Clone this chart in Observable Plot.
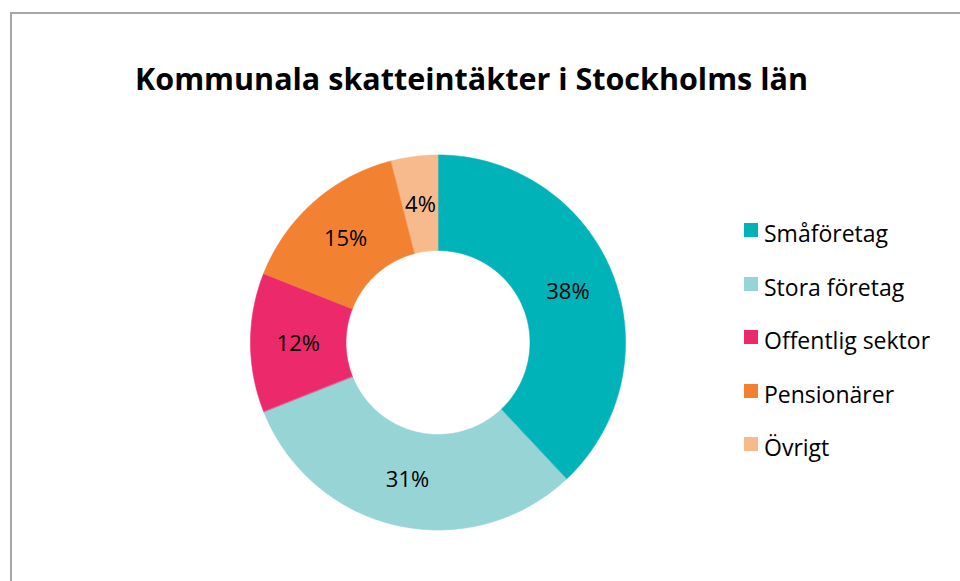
<!DOCTYPE html>
<html>
<head>
<meta charset="utf-8">
<script src="https://cdn.jsdelivr.net/npm/d3@7"></script>
<script src="https://cdn.jsdelivr.net/npm/@observablehq/plot@0.6"></script>
<style>
  html, body { margin: 0; padding: 0; background: #fff; overflow: hidden; width: 960px; height: 581px; }
  #wrap { position: relative; width: 960px; height: 581px; font-family: "Open Sans", sans-serif; }
  #frame { position: absolute; left: 10px; top: 12px; width: 2000px; height: 2000px;
           border-left: 2px solid #a6a6a6; border-top: 2px solid #a6a6a6; }
  #title { position: absolute; left: 0; top: 63px; width: 943px; text-align: center;
           font-size: 30.5px; font-weight: 700; line-height: 30.5px; color: #000; white-space: nowrap; }
  #chart { position: absolute; left: 0; top: 0; }
  .leg { position: absolute; left: 744px; height: 23px; }
  .leg .sw { position: absolute; left: 0; width: 14px; height: 14px; }
  .leg .lt { position: absolute; left: 20px; font-size: 23px; line-height: 23px; white-space: nowrap; color: #000; }
</style>
</head>
<body>
<div id="wrap">
  <div id="frame"></div>
  <div id="chart"></div>
  <div id="title"></div>
  <div id="legend"></div>
</div>
<script>
const title = "Kommunala skatteintäkter i Stockholms län";
const categories = ["Småföretag", "Stora företag", "Offentlig sektor", "Pensionärer", "Övrigt"];
const values = [38, 31, 12, 15, 4];
const colors = ["#00b3b9", "#97d4d6", "#ec296b", "#f28232", "#f7ba8d"];

const innerRatio = 92 / 187.5;

// Slice geometry computed from the data values
const pie = d3.pie().sort(null).value(d => d)(values);
const total = d3.sum(values);
const polyPoints = [];
const labels = [];
pie.forEach((p, i) => {
  const a0 = p.startAngle, a1 = p.endAngle;
  const n = Math.max(4, Math.ceil((a1 - a0) / (Math.PI / 180)));
  const pts = [];
  for (let k = 0; k <= n; k++) {
    const a = a0 + (a1 - a0) * k / n;
    pts.push({name: categories[i], x: Math.sin(a), y: Math.cos(a)});
  }
  for (let k = n; k >= 0; k--) {
    const a = a0 + (a1 - a0) * k / n;
    pts.push({name: categories[i], x: innerRatio * Math.sin(a), y: innerRatio * Math.cos(a)});
  }
  polyPoints.push(...pts);
  const am = (a0 + a1) / 2, rm = (1 + innerRatio) / 2;
  labels.push({x: rm * Math.sin(am), y: rm * Math.cos(am), text: Math.round(values[i] / total * 100) + "%"});
});

const cx = 437.5, cy = 342, R = 187.5;
const chart = Plot.plot({
  width: 960,
  height: 581,
  margin: 0,
  style: {fontFamily: "Open Sans, sans-serif", background: "transparent"},
  x: {domain: [-1, 1], range: [cx - R, cx + R], axis: null},
  y: {domain: [-1, 1], range: [cy + R, cy - R], axis: null},
  color: {domain: categories, range: colors},
  marks: [
    Plot.line(polyPoints, {x: "x", y: "y", z: "name", fill: "name", stroke: "name", strokeWidth: 0.6, curve: "linear-closed"}),
    Plot.text(labels, {x: "x", y: "y", text: "text", fontSize: 22, fill: "#000", dy: 1})
  ]
});
document.getElementById("chart").appendChild(chart);
document.getElementById("title").textContent = title;

const legend = document.getElementById("legend");
categories.forEach((c, i) => {
  const row = document.createElement("div");
  row.className = "leg";
  row.style.top = (223 + i * 53.5) + "px";
  const sw = document.createElement("div");
  sw.className = "sw";
  sw.style.background = colors[i];
  const lt = document.createElement("div");
  lt.className = "lt";
  lt.style.top = "-1px";
  lt.textContent = c;
  row.appendChild(sw);
  row.appendChild(lt);
  legend.appendChild(row);
});
</script>
</body>
</html>
